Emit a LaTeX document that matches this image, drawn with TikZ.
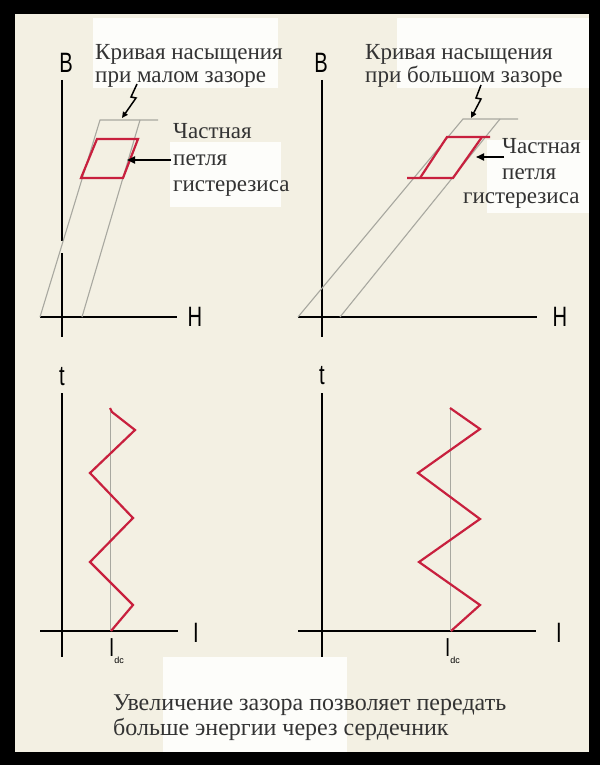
\documentclass[tikz,border=0pt]{standalone}
\usepackage{fontspec}
\setmainfont{Liberation Serif}
\newfontfamily\lserif{Liberation Serif}
\newfontfamily\lsans{Liberation Sans}
\usetikzlibrary{arrows.meta}
\definecolor{cream}{RGB}{243,240,227}
\definecolor{patchwhite}{RGB}{253,253,250}
\definecolor{loopred}{RGB}{200,32,62}
\definecolor{satgrey}{RGB}{168,168,160}
\newcommand\nrw[1]{\scalebox{0.72}[1]{#1}}
\begin{document}
\begin{tikzpicture}[x=1pt,y=-1pt,
  axis/.style={line width=2pt,black},
  satline/.style={line width=1.1pt,satgrey},
  loopline/.style={line width=2.2pt,loopred,line join=miter},
  zigline/.style={line width=2.2pt,loopred,line join=miter},
  ptr/.style={line width=1.8pt,black,-{Triangle[length=8pt,width=7pt]}},
  zptr/.style={line width=1.5pt,black,line join=miter,-{Triangle[length=6pt,width=5.5pt]}},
  patch/.style={fill=patchwhite,draw=none},
  lab/.style={font=\lserif\fontsize{23}{24}\selectfont,inner sep=0,anchor=base west,text=black!80},
  caplab/.style={font=\lserif\fontsize{24}{25}\selectfont,inner sep=0,anchor=base west,text=black!80},
  axlab/.style={font=\lsans\fontsize{28}{28}\selectfont,inner sep=0},
  sublab/.style={font=\lsans\fontsize{26}{26}\selectfont,inner sep=0,anchor=west}
]
% frame and background
\fill[black] (0,0) rectangle (600,765);
\fill[cream] (15,14) rectangle (589,752);
\useasboundingbox (0,0) rectangle (600,765);
% white text patches
\fill[patch] (93,18) rectangle (278,88);
\fill[patch] (170,142) rectangle (281,207);
\fill[patch] (397,18) rectangle (589,88);
\fill[patch] (487,140) rectangle (589,213);
\fill[patch] (163,657) rectangle (347,752);

% ---------- top left: B-H, small gap ----------
\coordinate (lbT) at (62,80);
\coordinate (lbG1) at (62,241);
\coordinate (lbG2) at (62,253);
\coordinate (lbB) at (62,337);
\coordinate (lhL) at (40,317);
\coordinate (lhR) at (177,317);
\draw[axis] (lbT) -- (lbG1);
\draw[axis] (lbG2) -- (lbB);
\draw[axis] (lhL) -- (lhR);
\node[axlab] (lB) at (66,63) {\nrw{B}};
\node[axlab] (lH) at (195,317) {\nrw{H}};
\coordinate (ls1) at (40,317);
\coordinate (ls2) at (100,120);
\coordinate (ls3) at (158,120);
\coordinate (ls4) at (82,317);
\coordinate (ls5) at (140,120);
\draw[satline] (ls1) -- (ls2) -- (ls3);
\draw[satline] (ls4) -- (ls5);
\coordinate (ll1) at (97,139);
\coordinate (ll2) at (138,139);
\coordinate (ll3) at (123,178);
\coordinate (ll4) at (81,178);
\draw[loopline] (ll1) -- (ll2) -- (ll3) -- (ll4) -- cycle;
\node[lab] (tl1) at (95,60) {Кривая насыщения};
\node[lab] (tl2) at (95,83) {при малом зазоре};
\node[lab] (pl1) at (173,139) {Частная};
\node[lab] (pl2) at (173,165) {петля};
\node[lab] (pl3) at (173,191) {гистерезиса};
\coordinate (lz1) at (137,84);
\coordinate (lz2) at (131,97);
\coordinate (lz3) at (136,98);
\coordinate (lz4) at (122,118);
\draw[zptr] (lz1) -- (lz2) -- (lz3) -- (lz4);
\coordinate (la1) at (171,160);
\coordinate (la2) at (127,160);
\draw[ptr] (la1) -- (la2);

% ---------- top right: B-H, large gap ----------
\coordinate (rbT) at (322,80);
\coordinate (rbB) at (322,337);
\coordinate (rhL) at (298,317);
\coordinate (rhR) at (537,317);
\draw[axis] (rbT) -- (rbB);
\draw[axis] (rhL) -- (rhR);
\node[axlab] (rB) at (321,63) {\nrw{B}};
\node[axlab] (rH) at (560,317) {\nrw{H}};
\coordinate (rs1) at (298,317);
\coordinate (rs2) at (463,119);
\coordinate (rs3) at (518,119);
\coordinate (rs4) at (340,317);
\coordinate (rs5) at (500,119);
\draw[satline] (rs1) -- (rs2) -- (rs3);
\draw[satline] (rs4) -- (rs5);
\coordinate (rl1) at (407,178);
\coordinate (rl2) at (453,178);
\coordinate (rl3) at (482,137);
\coordinate (rl4) at (420,178);
\coordinate (rl5) at (447,137);
\coordinate (rl6) at (490,137);
\draw[loopline] (rl1) -- (rl2) -- (rl3);
\draw[loopline] (rl4) -- (rl5) -- (rl6);
\node[lab] (tr1) at (365,60) {Кривая насыщения};
\node[lab] (tr2) at (365,83) {при большом зазоре};
\node[lab] (pr1) at (502,153) {Частная};
\node[lab] (pr2) at (502,179) {петля};
\node[lab] (pr3) at (463,203) {гистерезиса};
\coordinate (rz1) at (481,85);
\coordinate (rz2) at (476,98);
\coordinate (rz3) at (481,99);
\coordinate (rz4) at (471,118);
\draw[zptr] (rz1) -- (rz2) -- (rz3) -- (rz4);
\coordinate (ra1) at (504,157);
\coordinate (ra2) at (476,157);
\draw[ptr] (ra1) -- (ra2);

% ---------- bottom left: I(t), small gap ----------
\coordinate (ltT) at (62,393);
\coordinate (ltB) at (62,657);
\coordinate (liL) at (40,631);
\coordinate (liR) at (178,631);
\draw[axis] (ltT) -- (ltB);
\draw[axis] (liL) -- (liR);
\node[axlab] (lt) at (62,377) {\nrw{t}};
\node[axlab] (lI) at (196,633) {\nrw{I}};
\coordinate (lv1) at (110,408);
\coordinate (lv2) at (110,631);
\draw[satline,line width=0.9pt] (lv1) -- (lv2);
\draw[zigline] (lv1) -- (112,412) -- (135,430) -- (90,473) -- (133,518) -- (90,562) -- (133,605) -- (111,631);
\node[sublab] (lIdc) at (109,651) {\nrw{I}\raisebox{-7pt}{\fontsize{9}{9}\selectfont dc}};

% ---------- bottom right: I(t), large gap ----------
\coordinate (rtT) at (322,393);
\coordinate (rtB) at (322,657);
\coordinate (riL) at (298,631);
\coordinate (riR) at (536,631);
\draw[axis] (rtT) -- (rtB);
\draw[axis] (riL) -- (riR);
\node[axlab] (rt) at (322,376) {\nrw{t}};
\node[axlab] (rI) at (559,633) {\nrw{I}};
\coordinate (rv1) at (450,408);
\coordinate (rv2) at (450,631);
\draw[satline,line width=0.9pt] (rv1) -- (rv2);
\draw[zigline] (rv1) -- (480,429) -- (418,473) -- (480,519) -- (419,562) -- (480,605) -- (451,631);
\node[sublab] (rIdc) at (445,651) {\nrw{I}\raisebox{-7pt}{\fontsize{9}{9}\selectfont dc}};

% ---------- caption ----------
\node[caplab] (cap1) at (113,710) {Увеличение зазора позволяет передать};
\node[caplab] (cap2) at (113,735) {больше энергии через сердечник};
\end{tikzpicture}
\end{document}
